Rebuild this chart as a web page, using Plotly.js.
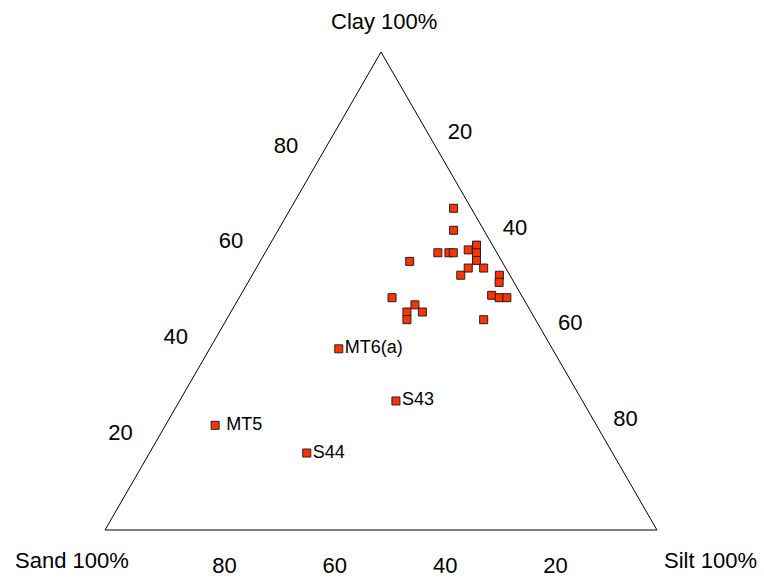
<!DOCTYPE html>
<html>
<head>
<meta charset="utf-8">
<script src="https://cdn.plot.ly/plotly-3.0.1.min.js"></script>
<style>html,body{margin:0;padding:0;background:#fff;}#chart{width:764px;height:581px;}</style>
</head>
<body>
<div id="chart"></div>
<script>
// Unlabelled samples (percent)
var clay = [67.3, 62.7, 58.0, 58.0, 58.0, 58.6, 59.6, 58.0, 56.4, 56.2, 54.8, 54.8, 53.3, 53.3, 51.8, 48.6, 49.1, 48.6, 48.6, 47.1, 45.6, 45.6, 44.0, 44.0];
var silt = [29.5, 31.8, 31.3, 33.3, 34.1, 36.5, 37.5, 38.3, 39.1, 27.1, 38.4, 41.2, 37.8, 44.8, 45.5, 27.7, 45.5, 47.1, 48.5, 32.6, 31.9, 34.7, 32.7, 46.6];
var sand = [3.2, 5.5, 10.7, 8.7, 7.9, 4.9, 2.9, 3.7, 4.5, 16.7, 6.8, 4.0, 8.9, 1.9, 2.7, 23.7, 5.4, 4.3, 2.9, 20.3, 22.5, 19.7, 23.3, 9.4];

// Labelled samples
var labNames = ['MT6(a)', 'S43', ' MT5', 'S44'];
var labClay = [37.9, 27.0, 21.9, 16.1];
var labSilt = [23.4, 39.2, 9.0, 28.5];
var labSand = [38.7, 33.8, 69.1, 55.4];

var tickVals = [20, 40, 60, 80];
var tickText = ['20', '40', '60', '80'];

// Corner titles
var cornerTitles = ['Clay 100%', 'Sand 100%', 'Silt 100%'];

var FONT = 'Liberation Sans, Arial, sans-serif';
var markerStyle = {symbol: 'square', size: 8, color: '#ff3300', line: {color: '#222', width: 1}};

var traces = [
  {type: 'scatterternary', mode: 'markers', a: clay, b: sand, c: silt,
   marker: markerStyle, hoverinfo: 'a+b+c'},
  {type: 'scatterternary', mode: 'markers+text', a: labClay, b: labSand, c: labSilt,
   text: labNames, textposition: 'middle right',
   textfont: {family: FONT, size: 18, color: '#000'},
   marker: markerStyle}
];

function axis(len) {
  return {
    title: {text: ''},
    min: 0,
    showgrid: false,
    showline: true, linecolor: '#000', linewidth: 1,
    ticks: 'outside', ticklen: len, tickcolor: 'rgba(0,0,0,0)',
    tickmode: 'array', tickvals: tickVals, ticktext: tickText,
    tickfont: {family: FONT, size: 22, color: '#000'}
  };
}

var titleFont = {family: FONT, size: 22, color: '#000'};

var layout = {
  width: 764, height: 581,
  margin: {l: 105, r: 107, t: 52, b: 51},
  paper_bgcolor: '#fff',
  showlegend: false,
  font: {family: FONT, color: '#000'},
  ternary: {
    sum: 100,
    bgcolor: '#fff',
    aaxis: axis(24),
    baxis: axis(18),
    caxis: axis(16)
  },
  annotations: [
    {text: cornerTitles[0], xref: 'paper', yref: 'paper', x: 0.5, y: 1, xanchor: 'center', yanchor: 'bottom', xshift: 3, yshift: 16, showarrow: false, font: titleFont},
    {text: cornerTitles[1], xref: 'paper', yref: 'paper', x: 0, y: 0, xanchor: 'center', yanchor: 'middle', xshift: -33, yshift: -30, showarrow: false, font: titleFont},
    {text: cornerTitles[2], xref: 'paper', yref: 'paper', x: 1, y: 0, xanchor: 'center', yanchor: 'middle', xshift: 53, yshift: -30, showarrow: false, font: titleFont}
  ]
};

Plotly.newPlot('chart', traces, layout, {displayModeBar: false, staticPlot: true});
</script>
</body>
</html>
